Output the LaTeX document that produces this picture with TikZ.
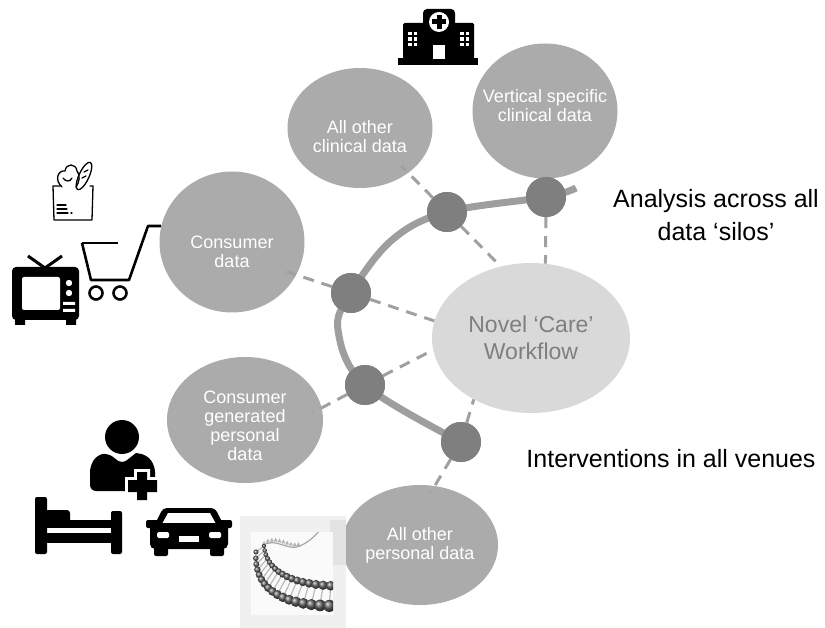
\documentclass[tikz,border=0pt]{standalone}
\usepackage{fontspec}
\setmainfont{Liberation Sans}
\usepackage{tikz}
\usetikzlibrary{shapes.geometric}

\definecolor{bubblegray}{HTML}{ABABAB}
\definecolor{hubgray}{HTML}{D9D9D9}
\definecolor{hubtext}{HTML}{7F7F7F}
\definecolor{linkgray}{HTML}{A0A0A0}
\definecolor{spinegray}{HTML}{9E9E9E}
\definecolor{knotgray}{HTML}{7F7F7F}

\begin{document}
\begin{tikzpicture}[x=1pt,y=-1pt]
	\tikzset{bubble/.style={ellipse,fill=bubblegray,inner sep=0pt},
		silo/.style={text=white,align=center,inner sep=0pt,font=\fontsize{18}{19}\selectfont},
		knot/.style={circle,fill=knotgray,minimum size=40pt,inner sep=0pt},
		link/.style={color=linkgray,line width=3pt,dash pattern=on 11pt off 8pt},
		spine/.style={draw=spinegray,line width=7pt},
		note/.style={align=center,font=\fontsize{25}{33}\selectfont}}
	\useasboundingbox (0,0) rectangle (825,628);

	%% data silos
	\node[bubble,minimum width=145pt,minimum height=120pt,label={[silo,yshift=-9pt]center:All other\\clinical data}] (clin) at (360,128) {};
	\node[bubble,minimum width=145pt,minimum height=135pt,label={[silo,yshift=5pt]center:Vertical specific\\clinical data}] (vert) at (545,111) {};
	\node[bubble,minimum width=145pt,minimum height=141pt,label={[silo,yshift=-10pt]center:Consumer\\data}] (cons) at (232,242) {};
	\node[bubble,minimum width=156pt,minimum height=126pt,label={[silo,yshift=-6pt]center:Consumer\\generated\\personal\\data}] (gen) at (245,420) {};
	\node[bubble,minimum width=156pt,minimum height=120pt,label={[silo]center:All other\\personal data}] (pers) at (420,545) {};
	\node[ellipse,fill=hubgray,text=hubtext,align=center,inner xsep=-15pt,minimum width=198pt,minimum height=150pt,
		font=\fontsize{23}{27}\selectfont] (novel) at (531,338) {Novel ‘Care’\\Workflow};

	%% knots on the spine
	\node[knot] (dA) at (546,197) {};
	\node[knot] (dB) at (447,212) {};
	\node[knot] (dC) at (351,293) {};
	\node[knot] (dD) at (365,385) {};
	\node[knot] (dE) at (461,442) {};
	\coordinate (tail) at (576,188);
	\coordinate (arc) at (392,240);
	\coordinate (bend) at (338,330);

	\path[link]
		(dB) edge[shorten >=-10pt] (clin.-43)
		(dB) edge (novel.113)
		(dA) edge (vert.south)
		(dA) edge (novel.79)
		(dC) edge[shorten >=-10pt] (cons.-27)
		(dC) edge (novel.170)
		(dD) edge[shorten >=-10pt] (gen.9)
		(dD) edge (novel.187)
		(dE) edge[shorten >=-8pt] (pers.76)
		(dE) edge (novel.227);

	\draw[spine] plot[smooth,tension=0.6] coordinates {(tail) (dA) (dB) (arc) (dC) (bend) (dD) (dE)};
	\foreach \k in {dA,dB,dC,dD,dE}
		\fill[knotgray] (\k) circle (20pt);

	\node[note] (silos) at (716,215) {Analysis across all\\data ‘silos’};
	\node[note] (venues) at (671,459) {Interventions in all venues};

	%% hospital
	\fill (398,58) rectangle (478,65);
	\fill[rounded corners=1.5pt] (403,59) rectangle (425,23);
	\fill[rounded corners=1.5pt] (452,59) rectangle (474,23);
	\fill[rounded corners=4pt] (423,59) rectangle (455,9);
	\fill[white] (439,22) circle (10pt);
	\fill (436.5,15) rectangle (441.5,29);
	\fill (432,19.5) rectangle (446,24.5);
	\fill[white] (433,45) rectangle (445,59);
	\foreach \wx in {408,413.5,460,465.5}
		\foreach \wy in {32,37.5,43}
			\fill[white] (\wx,\wy) rectangle ++(3.5,3.5);

	%% grocery bag
	\begin{scope}[line width=1.3pt,line join=round,line cap=round]
		\draw (60,186) -- (53,186) -- (54,220) -- (92,220) -- (93,186) -- (90,186);
		\draw (62,187) .. controls (54,180) and (58,170) .. (65,171)
			.. controls (66,163) and (76,163) .. (77,171) .. controls (81,175) and (79,183) .. (76,187);
		\draw (63,178) .. controls (66,182) and (70,182) .. (72,178);
		\draw[rotate around={65:(84,176)}] (84,176) ellipse (15pt and 5pt);
		\draw (84,172) -- (88,170) (82,178) -- (86,176);
		\draw (57,205) -- (66,205) (57,209) -- (67,209) (57,213) -- (68,213) (71,213) -- (72,213);
	\end{scope}

	%% tv
	\draw[line width=3pt] (28,256) -- (45,268) -- (62,256);
	\fill[rounded corners=4pt] (12,267) rectangle (79,320);
	\fill (15,318) rectangle (25,325) (66,318) rectangle (76,325);
	\fill[white,rounded corners=2pt] (22,277) rectangle (60,310);
	\fill[white] (69,283) circle (3.2pt) (69,293) circle (3.2pt);
	\fill[white] (63,302) rectangle (75,305) (63,309) rectangle (75,312);

	%% shopping cart
	\begin{scope}[line width=2.6pt,line join=round]
		\draw (82,243) -- (118,243);
		\draw (82,243) -- (91,280) -- (129,280) -- (148,226) -- (161,226);
		\draw (96,293) circle (6.5pt) (120,293) circle (6.5pt);
	\end{scope}

	%% patient
	\fill (122,437) circle (17pt);
	\fill[rounded corners=6pt] (90,491) -- (90,466) -- (97,455) -- (108,453) -- (122,464) [sharp corners] -- (136,453) [rounded corners=6pt] -- (147,455) -- (155,466) -- (155,491) -- cycle;
	\fill[white] (134,469) rectangle (150,503) (125,477) rectangle (160,495);
	\fill (137,472) rectangle (147,500) (128,480) rectangle (157,492);

	%% bed
	\fill[rounded corners=2pt] (35,497) rectangle (47,554);
	\fill[rounded corners=2pt] (111,511) rectangle (122,554);
	\fill[rounded corners=3pt] (45,510) rectangle (70,524);
	\fill (45,520) rectangle (113,528);
	\fill (45,533) rectangle (113,543);

	%% car
	\fill[rounded corners=4pt] (163,508) -- (215,508) -- (224,526) -- (154,526) -- cycle;
	\fill[white] (168,513) -- (210,513) -- (216,524) -- (162,524) -- cycle;
	\fill[rounded corners=5pt] (150,523) rectangle (228,549);
	\fill[rounded corners=2pt] (146,520) rectangle (158,528) (220,520) rectangle (232,528);
	\fill[rounded corners=2pt] (154,545) rectangle (168,556) (210,545) rectangle (224,556);
	\fill[white,rounded corners=1.5pt] (157,532) rectangle (169,538) (209,532) rectangle (221,538);
	\fill[white] (179,536) rectangle (199,542);

	%% dna
	\fill[gray!12] (240,516) rectangle (346,628);
	\fill[gray!22] (330,520) rectangle (346,565);
	\fill[gray!4] (251,532) rectangle (333,615);
	\begin{scope}
		\clip (251,532) rectangle (333,615);
		\draw[gray!70,line width=1.2pt] (262,546) .. controls (275,536) and (288,552) .. (300,546)
			.. controls (310,541) and (314,537) .. (320,530);
		\foreach \s in {0,0.1,...,1.0}
			\fill[gray!60] ({(1-\s)^3*262+3*\s*(1-\s)^2*275+3*\s^2*(1-\s)*288+\s^3*300},{(1-\s)^3*546+3*\s*(1-\s)^2*536+3*\s^2*(1-\s)*552+\s^3*546})
				++(0,-1) -- ++(2,-4) -- ++(2,4) -- cycle;
		\foreach \t in {0,0.06,...,1.0} {
			\pgfmathsetmacro\ax{(1-\t)^2*256+2*\t*(1-\t)*252+\t^2*336}
			\pgfmathsetmacro\ay{(1-\t)^2*552+2*\t*(1-\t)*606+\t^2*606}
			\pgfmathsetmacro\cx{(1-\t)^2*264+2*\t*(1-\t)*268+\t^2*336}
			\pgfmathsetmacro\cy{(1-\t)^2*546+2*\t*(1-\t)*584+\t^2*586}
			\pgfmathsetmacro\br{2.6+3.6*\t}
			\draw[gray!55,line width=1.2pt] (\cx,\cy) -- (\ax,\ay);
			\shade[ball color=gray!75!black] (\cx,\cy) circle (0.8*\br pt);
			\shade[ball color=gray!75!black] (\ax,\ay) circle (\br pt);
		}
	\end{scope}
\end{tikzpicture}
\end{document}
